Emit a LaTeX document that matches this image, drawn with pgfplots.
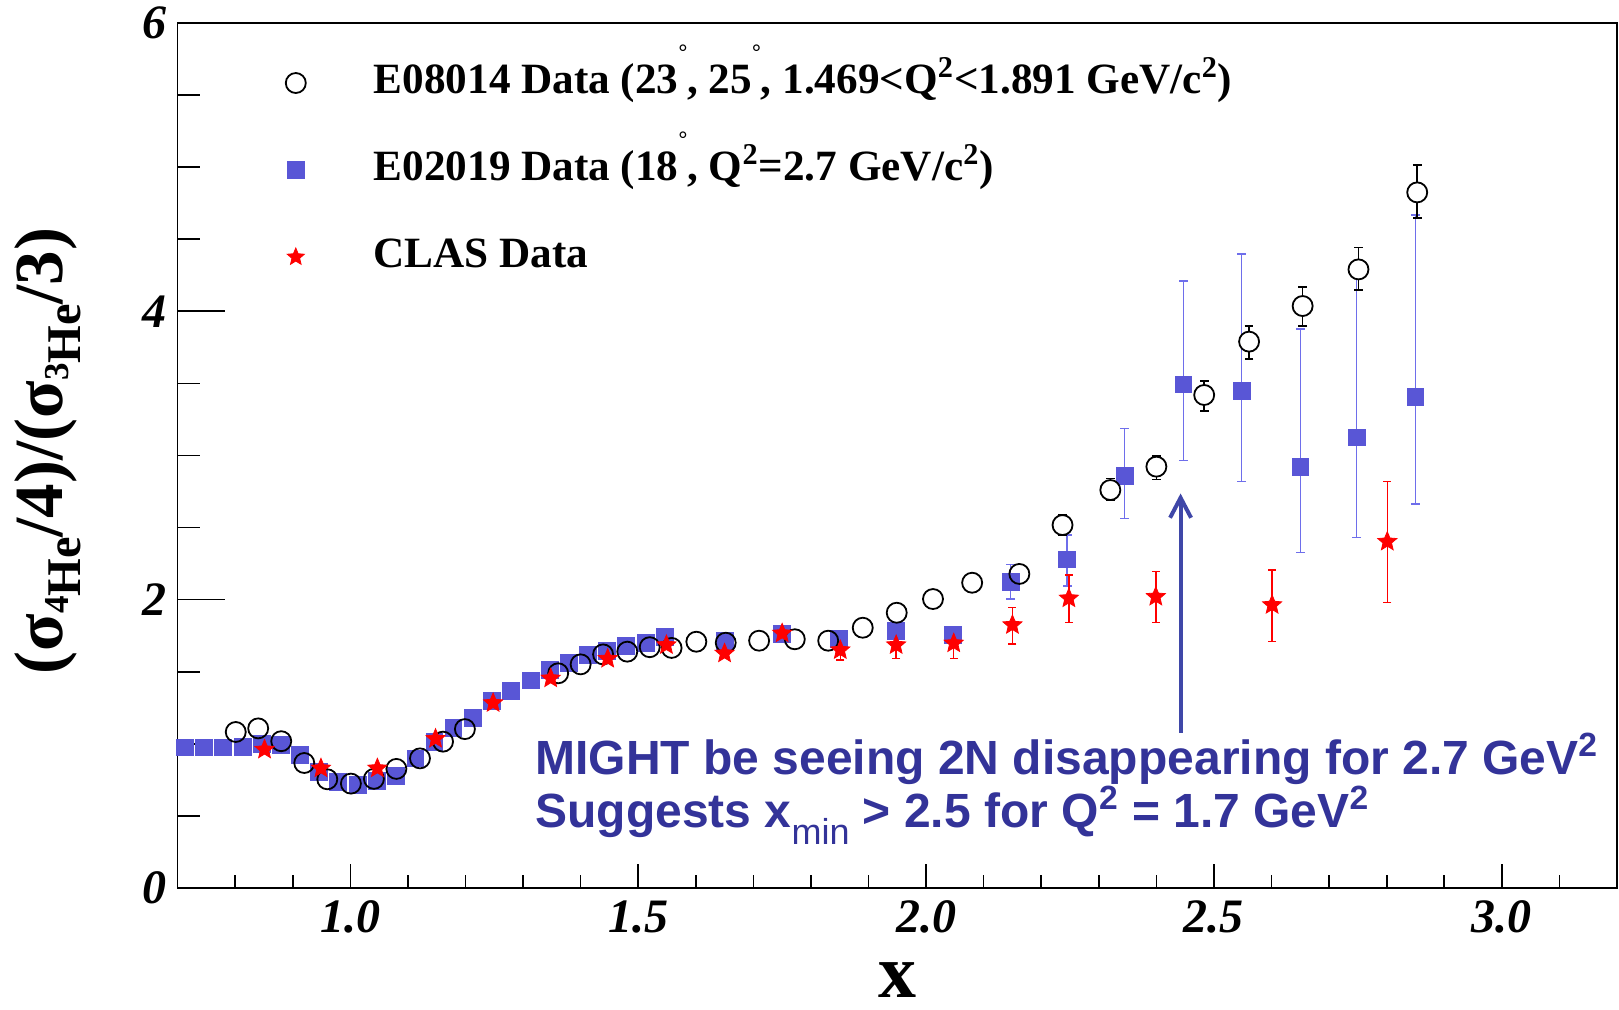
\documentclass[border=0pt]{standalone}
\usepackage{pgfplots}
\pgfplotsset{compat=1.18}
\usepackage{fontspec}
\setmainfont{Liberation Serif}
\newfontfamily\annfont{Liberation Sans}
\usetikzlibrary{arrows.meta}
\definecolor{sqblue}{RGB}{89,86,214}
\definecolor{sqerr}{RGB}{110,110,235}
\definecolor{annblue}{RGB}{51,51,153}
\definecolor{arrblue}{RGB}{63,71,168}
\pgfdeclareplotmark{fstar}{%
  \pgfpathmoveto{\pgfpointpolar{90}{\pgfplotmarksize}}%
  \pgfpathlineto{\pgfpointpolar{126}{0.45*\pgfplotmarksize}}%
  \pgfpathlineto{\pgfpointpolar{162}{\pgfplotmarksize}}%
  \pgfpathlineto{\pgfpointpolar{198}{0.45*\pgfplotmarksize}}%
  \pgfpathlineto{\pgfpointpolar{234}{\pgfplotmarksize}}%
  \pgfpathlineto{\pgfpointpolar{270}{0.45*\pgfplotmarksize}}%
  \pgfpathlineto{\pgfpointpolar{306}{\pgfplotmarksize}}%
  \pgfpathlineto{\pgfpointpolar{342}{0.45*\pgfplotmarksize}}%
  \pgfpathlineto{\pgfpointpolar{18}{\pgfplotmarksize}}%
  \pgfpathlineto{\pgfpointpolar{54}{0.45*\pgfplotmarksize}}%
  \pgfpathclose
  \pgfusepathqfillstroke
}
\newcommand{\dg}{\raisebox{1.7ex}{\fontsize{11}{11}\selectfont °}}
\begin{document}
\begin{tikzpicture}
\useasboundingbox (-88.8pt,-60.5pt) rectangle (720.7pt,444pt);
\begin{axis}[
  at={(0pt,0pt)}, anchor=south west,
  scale only axis, width=719.7pt, height=432.6pt,
  xmin=0.7, xmax=3.2, ymin=0, ymax=6,
  clip=false,
  axis line style={line width=0.8pt},
  xtick={1,1.5,2,2.5,3},
  xticklabels={1.0,1.5,2.0,2.5,3.0},
  minor xtick={0.8,0.9,1.1,1.2,1.3,1.4,1.6,1.7,1.8,1.9,2.1,2.2,2.3,2.4,2.6,2.7,2.8,2.9,3.1},
  ytick={0,2,4,6},
  yticklabels={0,2,4,6},
  minor ytick={0.5,1,1.5,2.5,3,3.5,4.5,5,5.5},
  tick align=inside,
  tick pos=left,
  xtick style={line width=0.8pt, black, /pgfplots/major tick length=12pt, /pgfplots/minor tick length=6.3pt},
  ytick style={line width=0.8pt, black, /pgfplots/major tick length=23.5pt, /pgfplots/minor tick length=11pt},
  ticklabel style={font=\fontsize{24}{24}\selectfont\bfseries\itshape},
  xticklabel style={inner sep=0pt, yshift=-6pt},
  yticklabel style={inner sep=0pt, xshift=-5.5pt},
  xlabel={x},
  xlabel style={at={(axis description cs:0.5,-0.126)}, anchor=base, font=\fontsize{38}{38}\selectfont\bfseries, inner sep=0pt},
  ylabel={(σ\raisebox{-9pt}{\fontsize{24.2}{24.2}\selectfont\raisebox{6.2pt}{\fontsize{17.5}{17.5}\selectfont 4}He}/4)/(σ\raisebox{-9pt}{\fontsize{24.2}{24.2}\selectfont\raisebox{6.2pt}{\fontsize{17.5}{17.5}\selectfont 3}He}/3)},
  ylabel style={at={(axis description cs:-0.0900,0.505)}, anchor=center, font=\fontsize{34.5}{34.5}\selectfont\bfseries, inner sep=0pt},
  legend style={draw=none, fill=none, at={(axis description cs:0,1)}, anchor=north west,
    xshift=50.9pt, yshift=-19.9pt, inner sep=0pt, row sep=23.5pt,
    font=\fontsize{21.6}{21.6}\selectfont\bfseries,
    nodes={inner sep=0pt, text height=15pt, text depth=5pt}},
  legend cell align=left,
  legend image code/.code={\path[draw=none, fill=none] (-8pt,-10pt) rectangle (39pt,10pt); \draw[#1] plot coordinates {(0pt,0pt)};},
]
\addlegendimage{only marks, mark=o, mark size=5pt, black, line width=0.9pt}
\addlegendentry{E08014 Data (23\dg, 25\dg, 1.469<Q\textsuperscript{2}<1.891 GeV/c\textsuperscript{2})}
\addlegendimage{only marks, mark=square*, mark size=4.2pt, sqblue}
\addlegendentry{E02019 Data (18\dg, Q\textsuperscript{2}=2.7 GeV/c\textsuperscript{2})}
\addlegendimage{only marks, mark=fstar, mark size=4.5pt, red}
\addlegendentry{CLAS Data}

% E02019 (squares)
\addplot[forget plot, only marks, mark=square*, mark size=4.2pt, color=sqblue,
  error bars/.cd, y dir=both, y explicit,
  error bar style={sqerr, line width=0.7pt},
  error mark options={sqerr, line width=0.7pt, mark size=2.2pt, rotate=90}]
table[x=x, y=y, y error plus=ep, y error minus=em] {
x y ep em
0.713 0.975 0 0
0.746 0.975 0 0
0.779 0.975 0 0
0.813 0.978 0 0
0.846 1.000 0 0
0.879 0.995 0 0
0.913 0.925 0 0
0.946 0.805 0 0
0.979 0.735 0 0
1.013 0.714 0 0
1.046 0.742 0 0
1.079 0.778 0 0
1.113 0.899 0 0
1.146 1.015 0 0
1.179 1.112 0 0
1.213 1.177 0 0
1.246 1.300 0 0
1.279 1.368 0 0
1.313 1.440 0 0
1.346 1.512 0 0
1.379 1.560 0 0
1.413 1.616 0 0
1.446 1.645 0 0
1.479 1.680 0 0
1.513 1.699 0 0
1.546 1.743 0 0
1.650 1.715 0.02 0.02
1.749 1.761 0.02 0.02
1.848 1.725 0.03 0.03
1.947 1.782 0.05 0.05
2.046 1.754 0.05 0.05
2.147 2.124 0.12 0.12
2.245 2.279 0.169 0.185
2.345 2.857 0.331 0.293
2.447 3.493 0.716 0.530
2.548 3.447 0.950 0.629
2.650 2.922 0.955 0.594
2.748 3.125 1.184 0.695
2.850 3.403 1.264 0.740
};

% E08014 low-x (open circles)
\addplot[forget plot, only marks, mark=o, mark size=5pt, black, line width=0.9pt]
table[x=x, y=y] {
x y
0.801 1.082
0.840 1.107
0.880 1.018
0.920 0.867
0.960 0.754
1.001 0.724
1.041 0.757
1.080 0.826
1.121 0.899
1.161 1.015
1.199 1.102
1.361 1.489
1.400 1.551
1.439 1.620
1.481 1.639
1.520 1.670
1.558 1.665
1.601 1.708
1.652 1.701
1.710 1.715
1.772 1.725
1.830 1.715
1.890 1.805
1.949 1.909
2.012 2.004
2.080 2.117
2.162 2.178
};

% E08014 high-x with error bars
\addplot[forget plot, only marks, mark=*, mark size=5pt, black, line width=0.9pt,
  mark options={fill=white, draw=black},
  error bars/.cd, y dir=both, y explicit,
  error bar style={black, line width=0.8pt},
  error mark options={black, line width=0.8pt, mark size=2.2pt, rotate=90}]
table[x=x, y=y, y error plus=ep, y error minus=em] {
x y ep em
2.237 2.517 0.07 0.07
2.320 2.760 0.080 0.070
2.400 2.922 0.074 0.088
2.483 3.419 0.099 0.109
2.561 3.789 0.108 0.121
2.654 4.036 0.130 0.137
2.751 4.290 0.153 0.143
2.853 4.824 0.190 0.176
};

% CLAS (stars)
\addplot[forget plot, only marks, mark=fstar, mark size=5pt, red,
  error bars/.cd, y dir=both, y explicit,
  error bar style={red, line width=0.7pt},
  error mark options={red, line width=0.7pt, mark size=2pt, rotate=90}]
table[x=x, y=y, y error plus=ep, y error minus=em] {
x y ep em
0.851 0.960 0.01 0.01
0.949 0.830 0.01 0.01
1.047 0.830 0.01 0.01
1.148 1.035 0.01 0.01
1.248 1.283 0.01 0.01
1.348 1.454 0.01 0.01
1.447 1.590 0.02 0.02
1.549 1.685 0.02 0.02
1.650 1.627 0.03 0.03
1.750 1.766 0.03 0.03
1.851 1.650 0.065 0.069
1.948 1.685 0.069 0.092
2.048 1.697 0.092 0.104
2.150 1.824 0.123 0.132
2.248 2.009 0.162 0.169
2.399 2.020 0.174 0.180
2.601 1.963 0.242 0.255
2.801 2.402 0.416 0.421
};

\draw[arrblue, line width=2pt, -{Straight Barb[length=10pt, width=10.5pt]}] (axis cs:2.442,1.075) -- (axis cs:2.442,2.736);
\node[anchor=base west, inner sep=0pt, text=annblue, font=\annfont\bfseries\fontsize{24}{24}\selectfont] at (axis cs:1.321,0.790) {MIGHT be seeing 2N disappearing for 2.7 GeV\textsuperscript{2}};
\node[anchor=base west, inner sep=0pt, text=annblue, font=\annfont\bfseries\fontsize{24}{24}\selectfont] at (axis cs:1.321,0.420) {Suggests x\raisebox{-0.35em}{\mdseries\fontsize{18}{18}\selectfont min} > 2.5 for Q\textsuperscript{2} = 1.7 GeV\textsuperscript{2}};
\end{axis}
\end{tikzpicture}
\end{document}
